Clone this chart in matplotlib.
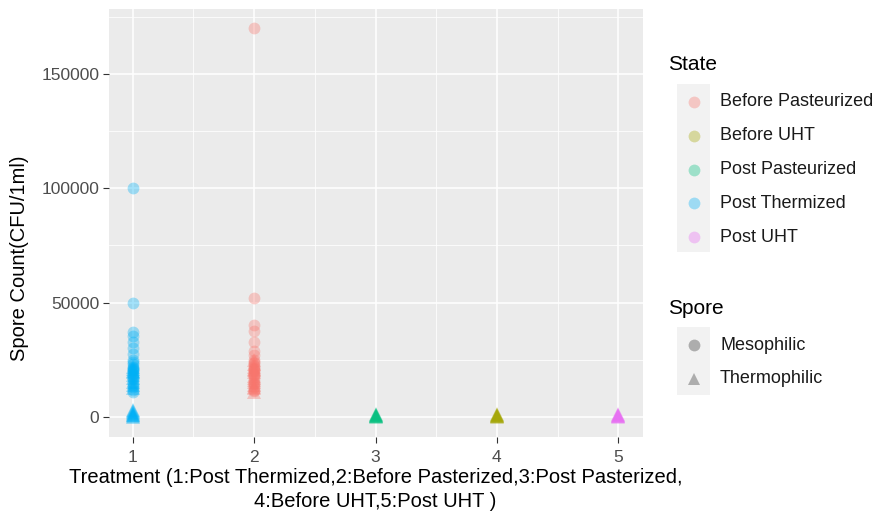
import matplotlib
matplotlib.use("Agg")
from matplotlib import pyplot as plt
from matplotlib.patches import Rectangle
from matplotlib.ticker import MultipleLocator

plt.rcParams["font.family"] = ["Liberation Sans", "DejaVu Sans"]

# spore counts per treatment, split by spore type
thermized_meso = [100000, 50000, 37000, 35500, 33000, 30000, 27500, 25000, 23000,
                  21000, 20000, 18000, 16500, 15000, 13000, 11000, 22000, 19000,
                  24000, 21500, 20500, 17000, 14000, 12000]
thermized_thermo = [2500, 1500, 1000, 500, 200, 1800, 3000, 800, 2200,
                    22000, 20000, 18500, 17000, 15500, 14000, 21000, 19500, 12500]
before_past_meso = [170000, 52000, 40000, 37500, 33000, 29000, 27000, 25000, 24000,
                    22500, 21000, 20000, 19000, 17500, 16000, 14500, 13000, 11500,
                    23500, 21500, 20500, 18500, 15000, 12000]
before_past_thermo = [25000, 23000, 22000, 20500, 19500, 18000, 17000, 15500, 14000,
                      12500, 11000, 21000, 16000, 13000]
post_past_thermo = [800, 500, 300, 1000, 200, 600, 1400]
before_uht_thermo = [800, 500, 300, 1000, 200, 600, 1400]
post_uht_thermo = [800, 500, 300, 1000, 200, 600, 1400]

states = ["Before Pasteurized", "Before UHT", "Post Pasteurized", "Post Thermized", "Post UHT"]
colors = ["#F8766D", "#A3A500", "#00BF7D", "#00B0F6", "#E76BF3"]
spores = ["Mesophilic", "Thermophilic"]

series = [
    (1, thermized_meso, "Post Thermized", "o"),
    (1, thermized_thermo, "Post Thermized", "^"),
    (2, before_past_meso, "Before Pasteurized", "o"),
    (2, before_past_thermo, "Before Pasteurized", "^"),
    (3, post_past_thermo, "Post Pasteurized", "^"),
    (4, before_uht_thermo, "Before UHT", "^"),
    (5, post_uht_thermo, "Post UHT", "^"),
]

W, H = 873, 517
fig = plt.figure(figsize=(W / 100, H / 100), dpi=100)
ax = fig.add_axes([108.5 / W, 1 - 436.5 / H, 534 / W, 428 / H])
ax.set_facecolor("#EBEBEB")
for s in ax.spines.values():
    s.set_visible(False)

for x, vals, state, mk in series:
    c = colors[states.index(state)]
    ms = 10 if mk == "^" else 8.5
    ax.plot([x] * len(vals), vals, linestyle="none", marker=mk, ms=ms,
            color=c, alpha=0.35, markeredgewidth=0, zorder=3)

ax.xaxis.set_minor_locator(MultipleLocator(0.5))
ax.yaxis.set_minor_locator(MultipleLocator(25000))
ax.grid(which="major", color="white", lw=1.1, zorder=0)
ax.grid(which="minor", color="white", lw=0.55, zorder=0)
ax.set_axisbelow(True)
ax.tick_params(which="major", length=4, width=0.8, color="#333333",
               labelcolor="#4D4D4D", labelsize=12.5)
ax.tick_params(axis="y", pad=2.5)
ax.tick_params(axis="x", pad=6)
ax.tick_params(which="minor", length=0)
ax.set_xlim(0.8, 5.2)
ax.set_ylim(-8500, 178500)
ax.set_yticks([0, 50000, 100000, 150000])
ax.set_yticklabels(["0", "50000", "100000", "150000"])
ax.set_xticks([1, 2, 3, 4, 5])
ax.set_xticklabels(["1", "2", "3", "4", "5"])

ax.set_ylabel("Spore Count(CFU/1ml)", fontsize=14.5, color="black")
ax.yaxis.set_label_coords(29 / W, 0.5, transform=fig.transFigure)
ax.set_xlabel("Treatment (1:Post Thermized,2:Before Pasterized,3:Post Pasterized,\n"
              "4:Before UHT,5:Post UHT )", fontsize=14.5, color="black",
              linespacing=1.3, labelpad=2)

# legends drawn on an overlay in pixel coordinates
lax = fig.add_axes([0, 0, 1, 1], facecolor="none")
lax.set_xlim(0, W)
lax.set_ylim(H, 0)
lax.axis("off")

lax.text(668, 64, "State", fontsize=15, va="center", ha="left")
lax.add_patch(Rectangle((677, 84), 33, 168, facecolor="#F2F2F2", edgecolor="none"))
for i, (st, c) in enumerate(zip(states, colors)):
    y = 102 + i * 33.8
    lax.plot([693.5], [y], marker="o", ms=8.5, color=c, alpha=0.35, markeredgewidth=0)
    lax.text(720, y, st, fontsize=13, va="center", ha="left", color="#1A1A1A")

lax.text(668, 308, "Spore", fontsize=15, va="center", ha="left")
lax.add_patch(Rectangle((677, 327), 33, 68, facecolor="#F2F2F2", edgecolor="none"))
for i, (sp, mk) in enumerate(zip(spores, ["o", "^"])):
    y = 345 + i * 33.5
    lax.plot([693.5], [y], marker=mk, ms=8.5, color="#7F7F7F", alpha=0.6, markeredgewidth=0)
    lax.text(720, y, sp, fontsize=13, va="center", ha="left", color="#1A1A1A")

fig.savefig("out.png", dpi=100)
